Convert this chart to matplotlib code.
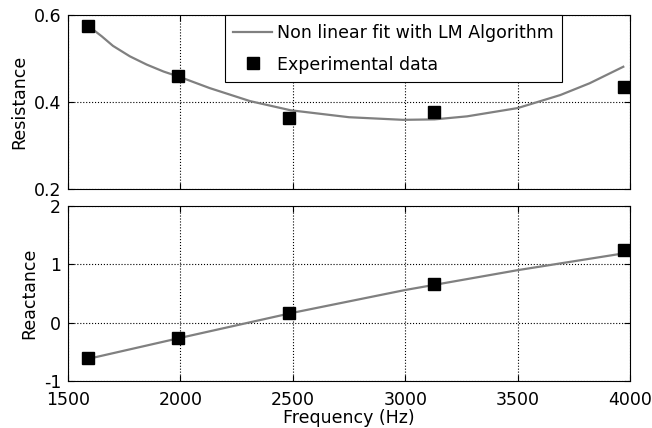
import numpy as np
import matplotlib
matplotlib.use("Agg")
import matplotlib.pyplot as plt

plt.rcParams['font.family'] = ['DejaVu Sans']
plt.rcParams['axes.unicode_minus'] = False

# measured points
freq = [1590, 1990, 2485, 3130, 3975]
resistance = [0.575, 0.460, 0.364, 0.376, 0.434]
reactance = [-0.61, -0.26, 0.16, 0.665, 1.245]

# LM fit curves
fit_freq_r = [1590, 1650, 1700, 1775, 1850, 1925, 2000, 2130, 2310, 2490,
              2750, 2990, 3130, 3275, 3500, 3690, 3820, 3970]
fit_r = [0.575, 0.551, 0.529, 0.505, 0.486, 0.470, 0.457, 0.432, 0.402, 0.381,
         0.365, 0.359, 0.360, 0.367, 0.386, 0.416, 0.443, 0.481]
fit_freq_x = [1590, 2000, 2500, 3000, 3500, 3975]
fit_x = [-0.62, -0.26, 0.17, 0.56, 0.90, 1.19]

fig = plt.figure(figsize=(6.52, 4.28), dpi=100)
ax1 = fig.add_axes([0.1043, 0.5584, 0.862, 0.4066])
ax2 = fig.add_axes([0.1043, 0.1098, 0.862, 0.4089])

line_kw = dict(color='#808080', lw=1.6)
mark_kw = dict(ls='none', marker='s', ms=8, color='black')

ax1.plot(fit_freq_r, fit_r, label='Non linear fit with LM Algorithm', **line_kw)
ax1.plot(freq, resistance, label='Experimental data', **mark_kw)
ax2.plot(fit_freq_x, fit_x, **line_kw)
ax2.plot(freq, reactance, **mark_kw)

for ax in (ax1, ax2):
    ax.set_xlim(1500, 4000)
    ax.set_xticks([1500, 2000, 2500, 3000, 3500, 4000])
    ax.grid(True, color='black', ls=':', lw=0.8)
    ax.tick_params(direction='in', top=True, right=True, labelsize=12.5, length=4)
    ax.tick_params(axis='y', pad=5)
    ax.tick_params(axis='x', pad=7.5)
    for s in ax.spines.values():
        s.set_linewidth(0.8)

ax1.set_ylim(0.2, 0.6)
ax1.set_yticks([0.2, 0.4, 0.6])
ax1.tick_params(labelbottom=False)
ax1.set_ylabel('Resistance', fontsize=12.5)

ax2.set_ylim(-1, 2)
ax2.set_yticks([-1, 0, 1, 2])
ax2.set_ylabel('Reactance', fontsize=12.5)
ax2.set_xlabel('Frequency (Hz)', fontsize=12.5, labelpad=0)

leg = ax1.legend(loc='upper left', bbox_to_anchor=(0.279, 1.0), borderaxespad=0,
                 fancybox=False, edgecolor='black', fontsize=12.5, handlelength=2.2,
                 handletextpad=0.3, labelspacing=0.8, borderpad=0.5, framealpha=1)
leg.get_frame().set_linewidth(0.8)

fig.savefig('out.png', dpi=100)
